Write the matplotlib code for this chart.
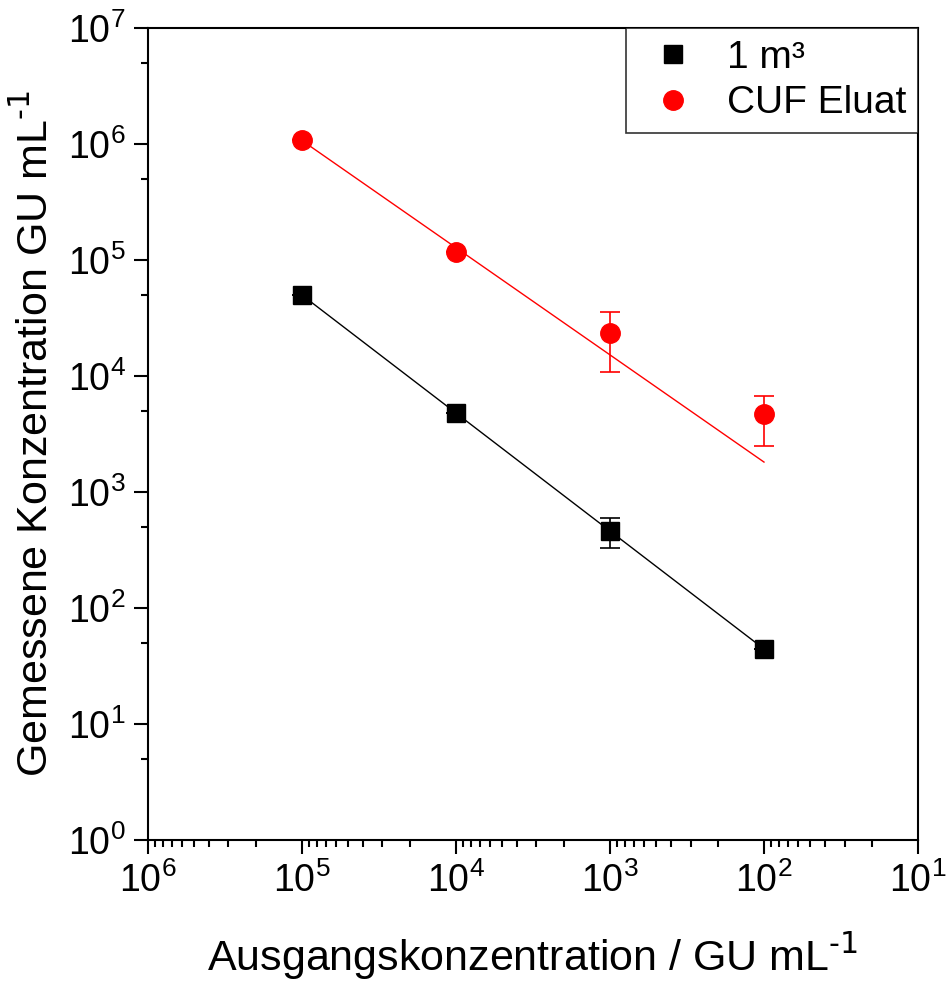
import numpy as np
import matplotlib
matplotlib.use("Agg")
import matplotlib.pyplot as plt
from matplotlib.ticker import LogLocator, NullFormatter
from matplotlib.lines import Line2D

plt.rcParams['font.family'] = ['Liberation Sans', 'DejaVu Sans']
plt.rcParams['mathtext.default'] = 'regular'

# input concentrations (GU/mL)
start_conc = [1e5, 1e4, 1e3, 1e2]

# 1 m3 series
m3_vals = [5.0e4, 4.8e3, 461, 44.3]
m3_err_lo = [0, 0, 132, 0]
m3_err_hi = [0, 0, 136, 0]

# CUF eluate series
cuf_vals = [1.08e6, 1.17e5, 2.35e4, 4.7e3]
cuf_err_lo = [0, 0, 1.27e4, 2.2e3]
cuf_err_hi = [0, 0, 1.21e4, 2.0e3]

# power-law fits y = a * x^b
m3_fit = (0.41, 1.017)
cuf_fit = (25.7, 0.924)

fig = plt.figure(figsize=(9.46, 9.85), dpi=100)
ax = fig.add_axes([0.1564, 0.1472, 0.814, 0.8244])

xs = np.logspace(2, 5, 50)
ax.plot(xs, m3_fit[0] * xs ** m3_fit[1], color='black', lw=1)
ax.plot(xs, cuf_fit[0] * xs ** cuf_fit[1], color='red', lw=1)

ax.errorbar(start_conc, m3_vals, yerr=[m3_err_lo, m3_err_hi], fmt='s',
            color='black', ms=13, capsize=7, elinewidth=1.2, capthick=1.2,
            zorder=3)
ax.errorbar(start_conc, cuf_vals, yerr=[cuf_err_lo, cuf_err_hi], fmt='o',
            color='red', ms=14, capsize=7, elinewidth=1.2, capthick=1.2,
            zorder=3)

ax.set_xscale('log')
ax.set_yscale('log')
ax.set_xlim(1e6, 1e1)
ax.set_ylim(1, 1e7)

ax.xaxis.set_major_locator(LogLocator(base=10, numticks=10))
ax.xaxis.set_minor_locator(LogLocator(base=10, subs=np.arange(2, 10), numticks=20))
ax.xaxis.set_minor_formatter(NullFormatter())
ax.yaxis.set_major_locator(LogLocator(base=10, numticks=10))
ax.yaxis.set_minor_locator(LogLocator(base=10, subs=[5], numticks=20))
ax.yaxis.set_minor_formatter(NullFormatter())

for s in ax.spines.values():
    s.set_linewidth(1.5)
ax.tick_params(which='major', direction='out', length=10, width=1.5, labelsize=27, pad=6)
ax.tick_params(which='minor', direction='out', length=5, width=1.5)
ax.tick_params(top=False, right=False)

ax.set_xlabel(r'Ausgangskonzentration / GU mL$^{\text{-1}}$', fontsize=31, labelpad=22)
ax.set_ylabel(r'Gemessene Konzentration GU mL$^{\text{-1}}$', fontsize=31, labelpad=8)

handles = [Line2D([], [], ls='none', marker='s', color='black', ms=13),
           Line2D([], [], ls='none', marker='o', color='red', ms=14)]
leg = ax.legend(handles, ['1 m³', 'CUF Eluat'], loc='upper right', fontsize=28,
                frameon=True, fancybox=False, edgecolor='black', borderaxespad=0,
                handletextpad=0.5, borderpad=0.3, labelspacing=0.25, handlelength=1.8)
leg.get_frame().set_linewidth(1.2)

fig.savefig('out.png', dpi=100)
